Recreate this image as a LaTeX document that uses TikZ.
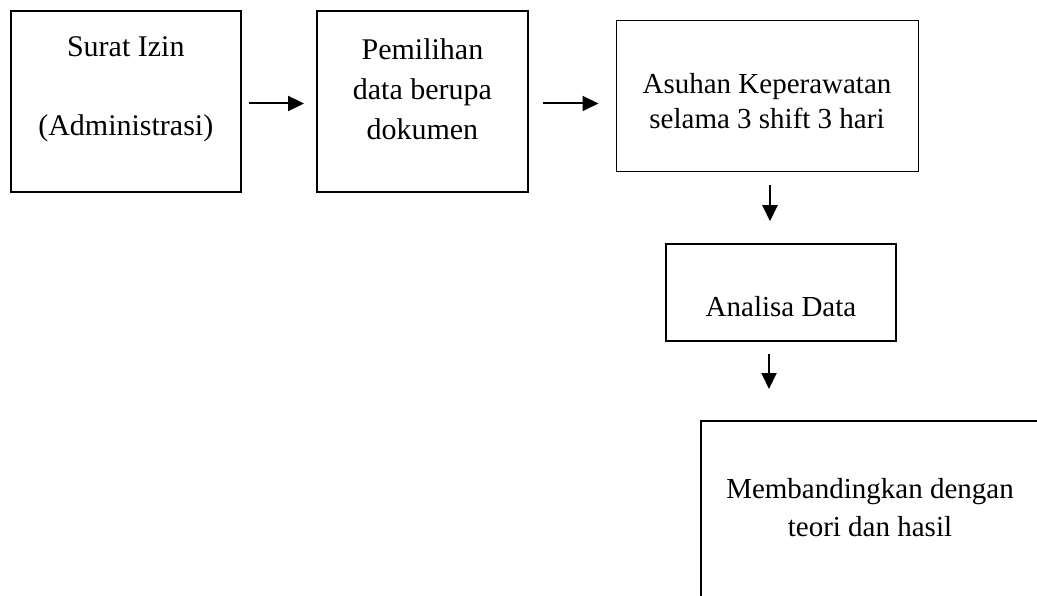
\documentclass[tikz,border=0pt]{standalone}
\usepackage{fontspec}
\setmainfont{Liberation Serif}
\usetikzlibrary{arrows.meta}
\tikzstyle{kotak} = [rectangle,
draw=black,
line width=2pt,
inner sep=0pt]
\tikzstyle{teks} = [align=center,
inner sep=0pt,
font=\fontsize{29}{36}\selectfont]
\tikzstyle{arrow} = [line width=2pt,-{Triangle[length=16pt,width=15pt]}]

\begin{document}
\begin{tikzpicture}[x=1pt, y=-1pt]
\clip (0,0) rectangle (1037,596);

\node (izin) [kotak, minimum width=230pt, minimum height=181.5pt,
  label={[teks, font=\fontsize{30}{36}\selectfont, yshift=12.5pt]center:Surat Izin\\[43pt](Administrasi)}] at (125.8,101.5) {};
\node (pilih) [kotak, minimum width=210.7pt, minimum height=181.5pt,
  label={[teks, font=\fontsize{30}{40}\selectfont, yshift=12.5pt]center:Pemilihan\\data berupa\\dokumen}] at (422.4,101.5) {};
\node (asuhan) [kotak, line width=1pt, minimum width=302pt, minimum height=151pt,
  label={[teks, font=\fontsize{29}{35}\selectfont, yshift=-4.5pt]center:Asuhan Keperawatan\\selama 3 shift 3 hari}] at (767,96.5) {};
\node (analisa) [kotak, line width=1.5pt, minimum width=230pt, minimum height=97pt,
  label={[teks, yshift=-14.5pt]center:Analisa Data}] at (781,292.5) {};
\node (banding) [kotak, minimum width=338pt, minimum height=178pt,
  label={[teks, font=\fontsize{29}{38}\selectfont, yshift=2pt]center:Membandingkan dengan\\teori dan hasil}] at (870,510) {};

\draw [arrow, shorten <=7.5pt, shorten >=12pt] ([yshift=-2pt]izin.east) -- ([yshift=-2pt]izin.east -| pilih.west);
\draw [arrow, shorten <=14pt, shorten >=17pt] ([yshift=-2pt]pilih.east) -- ([yshift=-2pt]pilih.east -| asuhan.west);
\draw [arrow, shorten <=13pt, shorten >=22pt] ([xshift=3pt]asuhan.south) -- ([xshift=3pt]asuhan.south |- analisa.north);
\draw [arrow, shorten <=12pt, shorten >=31pt] ([xshift=-12pt]analisa.south) -- ([xshift=-12pt]analisa.south |- banding.north);

\end{tikzpicture}
\end{document}
